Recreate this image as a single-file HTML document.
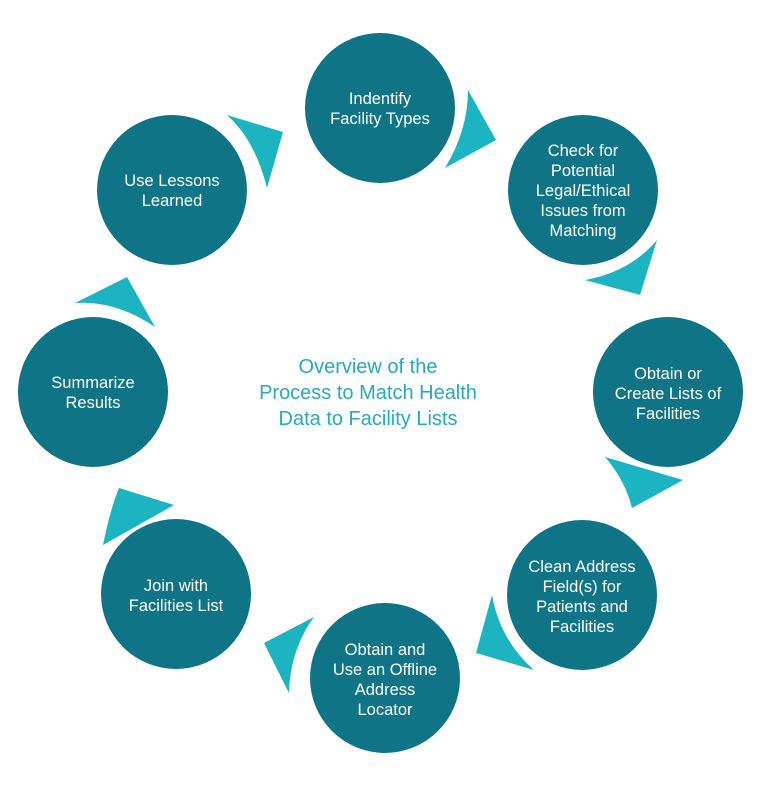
<!DOCTYPE html>
<html><head><meta charset="utf-8"><style>
html,body{margin:0;padding:0;background:#fff;}
svg{display:block}
text{font-family:"Liberation Sans",sans-serif;}
</style></head><body>
<svg width="768" height="795" viewBox="0 0 768 795" xmlns="http://www.w3.org/2000/svg">
<g fill="#0e7486">
<circle cx="380" cy="108" r="75"/>
<circle cx="583" cy="190" r="75"/>
<circle cx="668" cy="392" r="75"/>
<circle cx="582" cy="595" r="75"/>
<circle cx="385" cy="678" r="75"/>
<circle cx="176" cy="594" r="75"/>
<circle cx="93" cy="392" r="75"/>
<circle cx="172" cy="190" r="75"/>
</g>
<g fill="#1db4c1">
<path d="M468,90 L496,140 L445,168 Q468,130 468,90 Z"/>
<path d="M657,240 L640,295 L585,280 Q630,272 657,240 Z"/>
<path d="M605,457 L683,480 L632,508 Q625,480 605,457 Z"/>
<path d="M492,595 L476,653 L534,670 Q500,640 492,595 Z"/>
<path d="M314,617 L264,643 L289,693 Q290,650 314,617 Z"/>
<path d="M119,488 L174,505 L103,545 Q110,510 119,488 Z"/>
<path d="M75,303 L127,277 L155,327 Q115,300 75,303 Z"/>
<path d="M227,115 L283,132 L267,188 Q255,140 227,115 Z"/>
</g>
<g fill="#fff" font-size="16.5" text-anchor="middle">
<text x="380" y="104">Indentify</text>
<text x="380" y="124">Facility Types</text>
<text x="583" y="156">Check for</text>
<text x="583" y="176">Potential</text>
<text x="583" y="196">Legal/Ethical</text>
<text x="583" y="216">Issues from</text>
<text x="583" y="236">Matching</text>
<text x="668" y="379">Obtain or</text>
<text x="668" y="399">Create Lists of</text>
<text x="668" y="419">Facilities</text>
<text x="582" y="572">Clean Address</text>
<text x="582" y="592">Field(s) for</text>
<text x="582" y="612">Patients and</text>
<text x="582" y="632">Facilities</text>
<text x="385" y="655">Obtain and</text>
<text x="385" y="675">Use an Offline</text>
<text x="385" y="695">Address</text>
<text x="385" y="715">Locator</text>
<text x="176" y="591">Join with</text>
<text x="176" y="611">Facilities List</text>
<text x="93" y="388">Summarize</text>
<text x="93" y="408">Results</text>
<text x="172" y="186">Use Lessons</text>
<text x="172" y="206">Learned</text>
</g>
<g fill="#27aab9" font-size="20" text-anchor="middle">
<text x="368" y="373">Overview of the</text>
<text x="368" y="399">Process to Match Health</text>
<text x="368" y="425">Data to Facility Lists</text>
</g>
</svg>
</body></html>
